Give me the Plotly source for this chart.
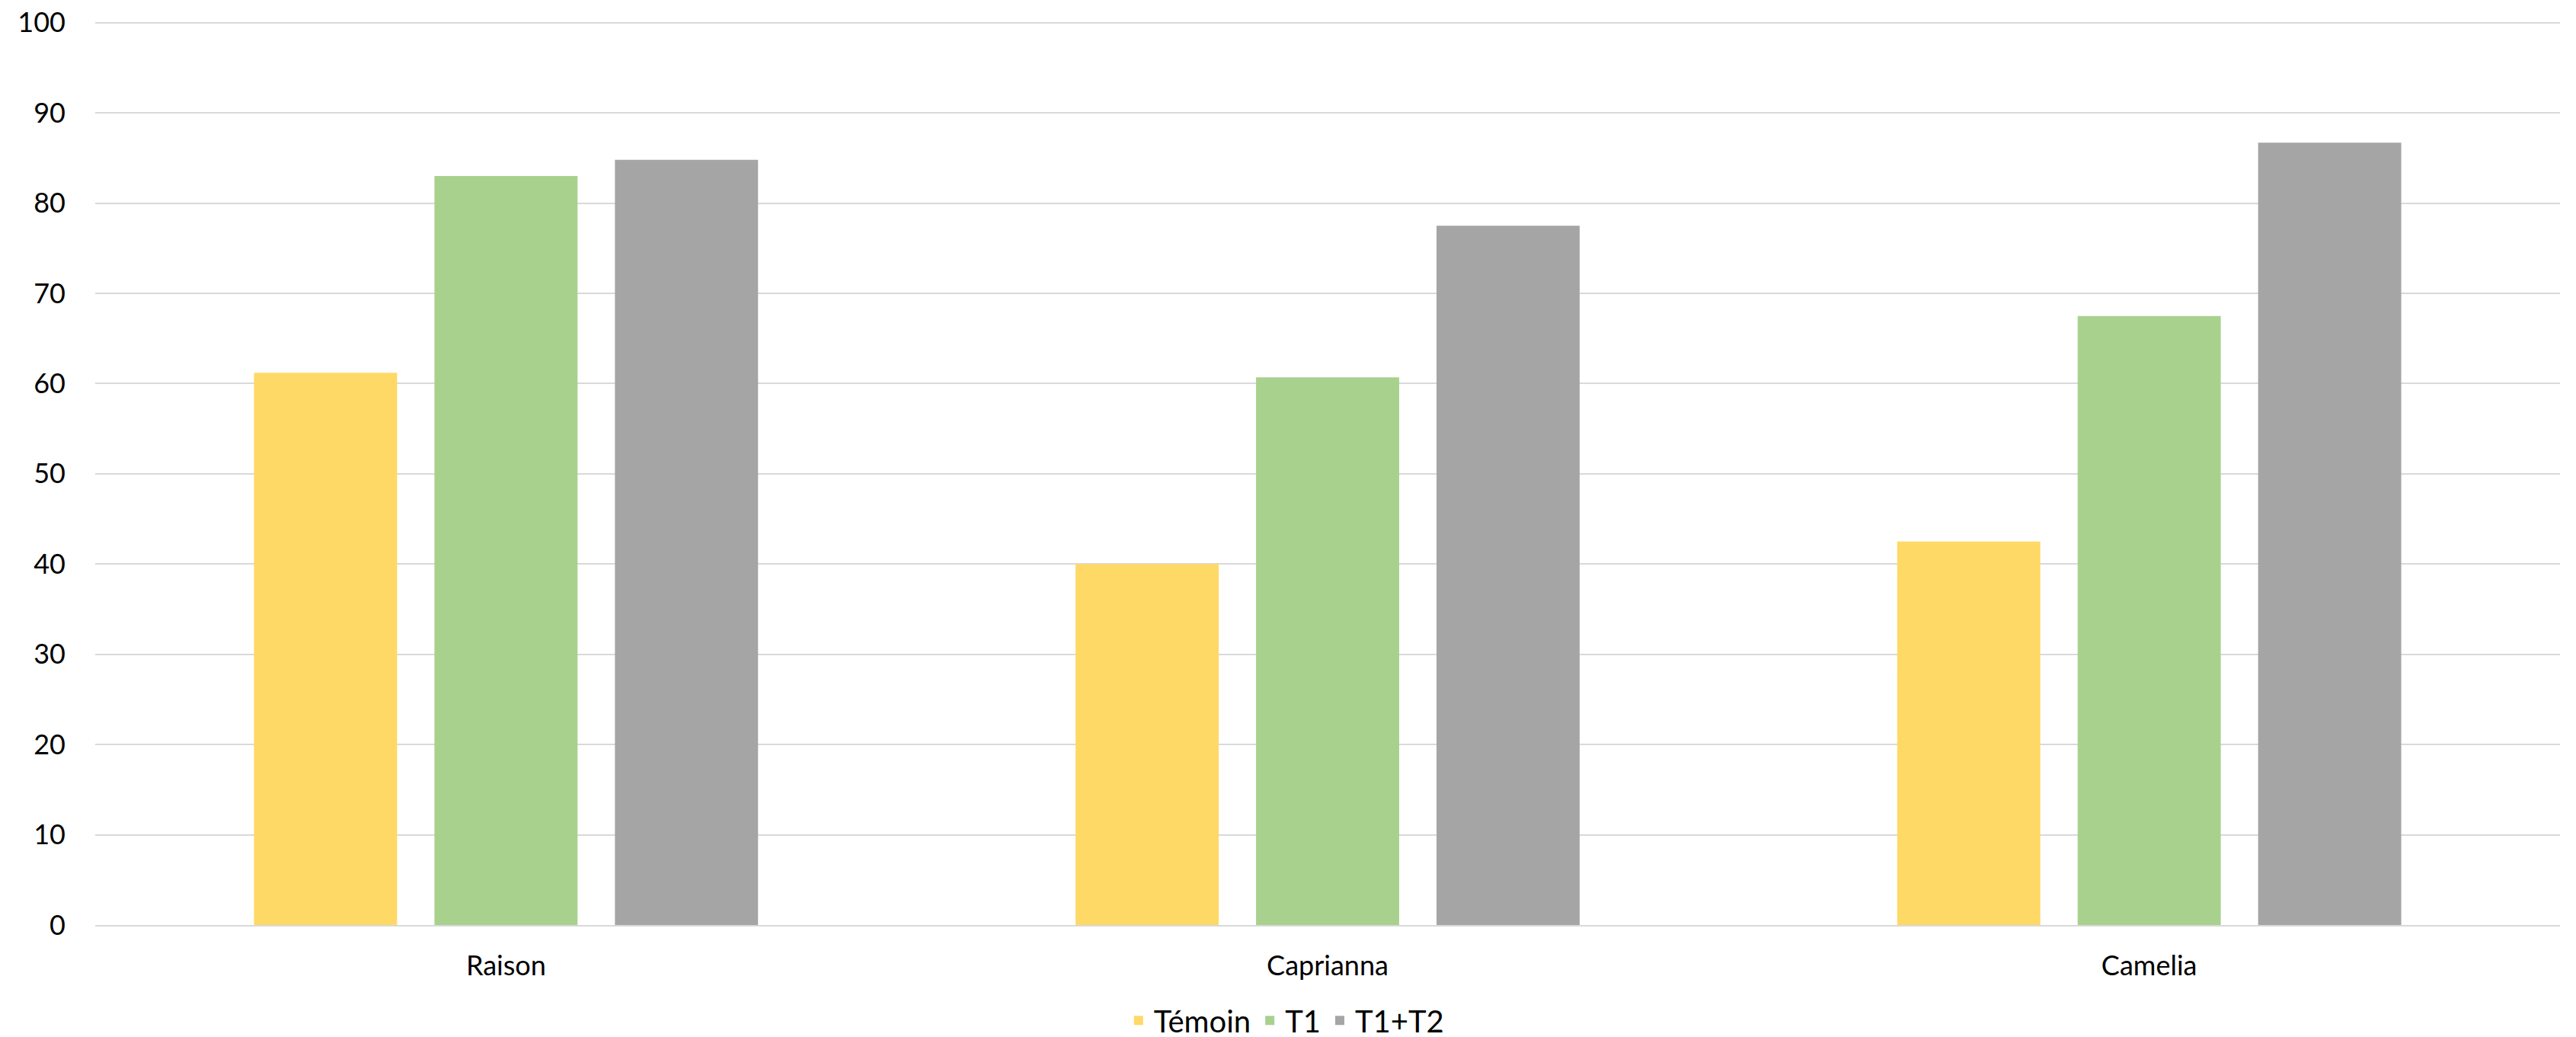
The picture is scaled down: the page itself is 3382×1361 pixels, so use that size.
import plotly.graph_objects as go

categories = ["Raison", "Caprianna", "Camelia"]
temoin = [61.2, 40.0, 42.5]
t1 = [83.0, 60.7, 67.5]
t1t2 = [84.8, 77.5, 86.7]
series_names = ["Témoin", "T1", "T1+T2"]
y_ticks = [0, 10, 20, 30, 40, 50, 60, 70, 80, 90, 100]

colors = ["#FFD966", "#A9D18E", "#A5A5A5"]
FONT = "Lato, Carlito, 'Liberation Sans', sans-serif"

fig = go.Figure()
for name, vals, col in zip(series_names, [temoin, t1, t1t2], colors):
    fig.add_trace(go.Bar(
        x=categories, y=vals, name=name,
        marker=dict(color=col, line=dict(width=0)),
    ))

fig.update_layout(
    width=3374, height=1353,
    margin=dict(l=117, r=21, t=20, b=147, autoexpand=False),
    paper_bgcolor="white", plot_bgcolor="white",
    barmode="group", bargap=0.341, bargroupgap=0.207,
    font=dict(family=FONT, size=36, color="#000000"),
    showlegend=True,
    legend=dict(orientation="h", xref="container", x=0.498, xanchor="center",
                yref="container", y=0.016, yanchor="middle",
                font=dict(size=40), itemwidth=30, traceorder="normal"),
    xaxis=dict(showgrid=False, showline=True, linecolor="#D9D9D9", linewidth=2,
               ticks="", tickfont=dict(size=36), ticklabelstandoff=21, automargin=False),
    yaxis=dict(range=[0, 100.15], tickvals=y_ticks, showgrid=True, gridcolor="#D9D9D9",
               gridwidth=1.5, zeroline=False, showline=False, ticks="",
               tickfont=dict(size=36), ticklabelstandoff=38, automargin=False,
               ticklabeloverflow="allow"),
)

fig.write_html("out.html")
